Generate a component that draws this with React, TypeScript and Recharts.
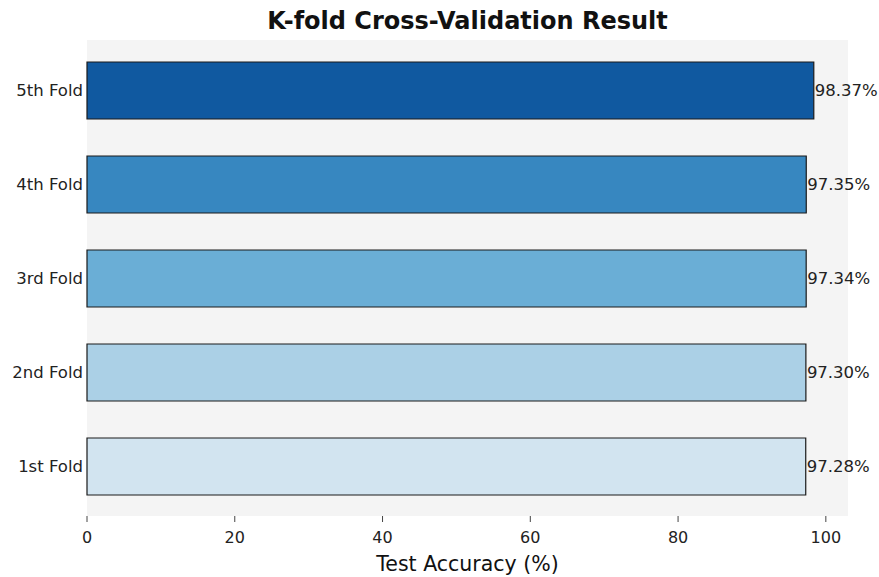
import { BarChart, Bar, XAxis, YAxis, CartesianGrid, LabelList, Cell } from 'recharts';

const folds = ['1st Fold', '2nd Fold', '3rd Fold', '4th Fold', '5th Fold'];
const accuracy = [97.28, 97.3, 97.34, 97.35, 98.37];
const barColors = ['#d2e4f0', '#abd0e6', '#6aaed6', '#3787c0', '#1059a0'];
const xTicks = [0, 20, 40, 60, 80, 100];

const data = folds.map((name, i) => ({ name, accuracy: accuracy[i] }));

const font = 'DejaVu Sans, sans-serif';

export default function App() {
  return (
    <div style={{ position: 'absolute', left: 0, top: 0, width: 879, height: 577, background: '#fff', fontFamily: font }}>
      <div
        style={{
          position: 'absolute',
          left: 87,
          width: 761,
          top: 7,
          textAlign: 'center',
          fontSize: 24,
          fontWeight: 'bold',
          color: '#111',
        }}
      >
        K-fold Cross-Validation Result
      </div>
      <BarChart
        width={879}
        height={577}
        data={data}
        layout="vertical"
        margin={{ top: 40, right: 31, left: 0, bottom: 0 }}
      >
        <CartesianGrid fill="#f4f4f4" stroke="none" horizontal={false} vertical={false} />
        <XAxis
          type="number"
          domain={[0, 103.0]}
          ticks={xTicks}
          height={61}
          axisLine={false}
          tickSize={6}
          tickMargin={10}
          tickLine={{ stroke: '#444' }}
          tick={{ fill: '#222', fontSize: 16, fontFamily: font }}
          label={{ value: 'Test Accuracy (%)', position: 'insideBottom', offset: 6, fill: '#111', fontSize: 20.5, fontFamily: font }}
        />
        <YAxis
          type="category"
          dataKey="name"
          reversed
          width={87}
          padding={{ top: 3, bottom: 3 }}
          axisLine={false}
          tickLine={false}
          tickSize={0}
          tickMargin={4}
          tick={{ fill: '#222', fontSize: 16.5, fontFamily: font }}
        />
        <Bar dataKey="accuracy" barSize={57} stroke="#1a1a1a" strokeWidth={1.2} isAnimationActive={false}>
          {data.map((d, i) => (
            <Cell key={d.name} fill={barColors[i]} />
          ))}
          <LabelList
            dataKey="accuracy"
            position="right"
            offset={1}
            formatter={(v: any) => `${Number(v).toFixed(2)}%`}
            style={{ fill: '#222', fontSize: 16.5, fontFamily: font }}
          />
        </Bar>
      </BarChart>
    </div>
  );
}
